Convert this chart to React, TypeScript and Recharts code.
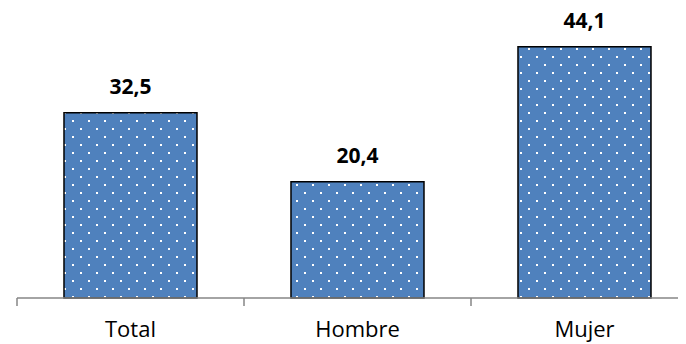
import React from "react";
import { BarChart, Bar, XAxis, YAxis, LabelList } from "recharts";

const categories = ["Total", "Hombre", "Mujer"];
const values = [32.5, 20.4, 44.1];

const data = categories.map((name, i) => ({ name, value: values[i] }));

const fmt = (v: any) => Number(v).toFixed(1).replace(".", ",");
const FONT = "'Open Sans', sans-serif";
const AXIS = "#868686";

const CatTick = (props: any) => {
  const { x, y, payload, index, visibleTicksCount, width } = props;
  const band = width / visibleTicksCount;
  const top = y - 8;
  return (
    <g>
      <line x1={x - band / 2} x2={x - band / 2} y1={top} y2={top + 8} stroke={AXIS} strokeWidth={1.5} />
      {index === visibleTicksCount - 1 && (
        <line x1={x + band / 2} x2={x + band / 2} y1={top} y2={top + 8} stroke={AXIS} strokeWidth={1.5} />
      )}
      <text x={x} y={y + 31} textAnchor="middle" fill="#000" fontSize={22} fontFamily={FONT}>
        {payload.value}
      </text>
    </g>
  );
};

export default function App() {
  return (
    <div style={{ width: 686, height: 344, overflow: "hidden", margin: "-8px 0 0 -8px" }}>
      <BarChart
        width={708}
        height={344}
        data={data}
        margin={{ top: 13, right: 10, bottom: 6, left: 17 }}
        barCategoryGap="20.7%"
      >
        <defs>
          <pattern id="dots" width="16" height="16" patternUnits="userSpaceOnUse">
            <rect width="16" height="16" fill="#4F81BD" />
            <rect x="0" y="0" width="2" height="2" fill="#ffffff" />
            <rect x="8" y="8" width="2" height="2" fill="#ffffff" />
          </pattern>
        </defs>
        <XAxis
          dataKey="name"
          height={40}
          axisLine={{ stroke: AXIS, strokeWidth: 1.5 }}
          tickLine={false}
          tickSize={8}
          tickMargin={0}
          tick={<CatTick />}
          interval={0}
        />
        <YAxis hide domain={[0, 50]} />
        <Bar
          dataKey="value"
          fill="url(#dots)"
          stroke="#000"
          strokeWidth={1.5}
          isAnimationActive={false}
        >
          <LabelList
            dataKey="value"
            position="top"
            offset={19}
            formatter={fmt}
            fill="#000"
            fontSize={21}
            fontWeight="bold"
            fontFamily={FONT}
          />
        </Bar>
      </BarChart>
    </div>
  );
}
